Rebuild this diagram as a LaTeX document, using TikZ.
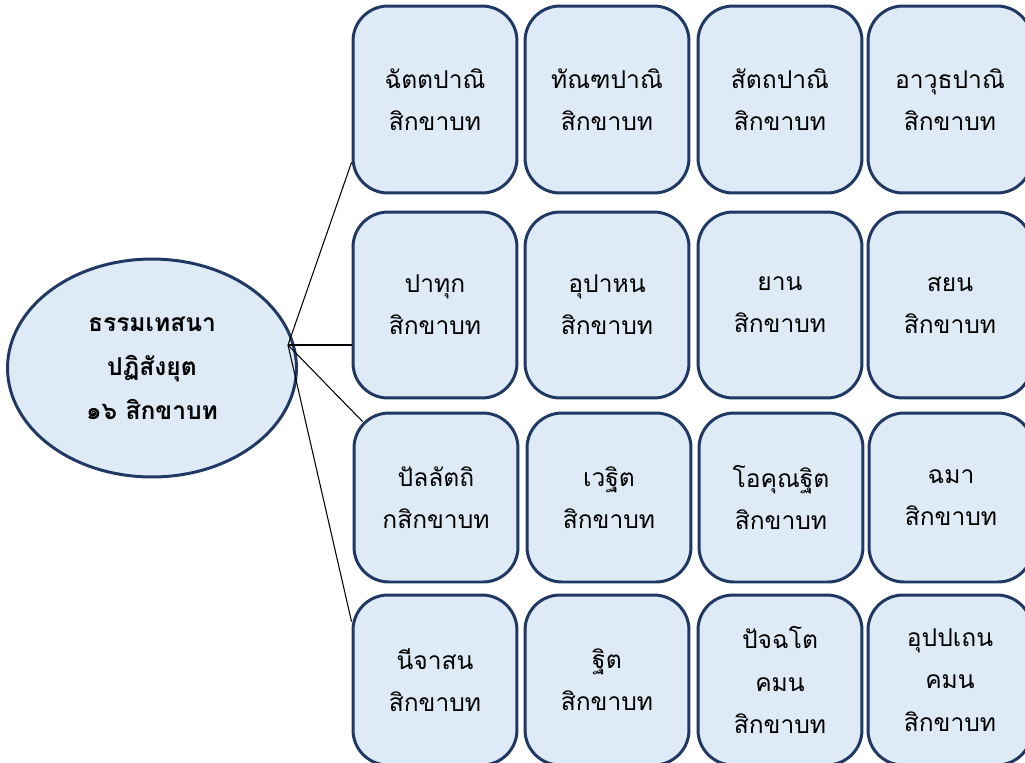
\documentclass[tikz,border=0pt]{standalone}
\usepackage{fontspec}
\newfontfamily\thaifont[Script=Thai]{Loma}
\usetikzlibrary{shapes.geometric}
\definecolor{boxfill}{HTML}{DEEAF6}
\definecolor{boxline}{HTML}{1F3864}
\tikzset{
  sikkha/.style={draw=boxline, fill=boxfill, line width=1.7pt, rounded corners=0.7cm,
    minimum width=3.28cm, inner sep=0pt, align=center,
    font=\thaifont\fontsize{14}{24}\selectfont},
  dhamma/.style={ellipse, draw=boxline, fill=boxfill, line width=1.7pt,
    minimum width=5.78cm, minimum height=4.36cm, inner sep=0pt, align=center,
    font=\thaifont\bfseries\fontsize{14}{25}\selectfont},
  branch/.style={line width=0.6pt}
}
\begin{document}
\begin{tikzpicture}[x=0.02cm,y=-0.02cm]
  \useasboundingbox (0,0) rectangle (1025,762);
  % main topic
  \node[dhamma] (D) at (152,368) {ธรรมเทสนา\\ปฏิสังยุต\\๑๖ สิกขาบท};
  % row 1
  \node[sikkha, minimum height=3.74cm] (c11) at (435,99.5) {ฉัตตปาณิ\\สิกขาบท};
  \node[sikkha, minimum height=3.74cm] (c12) at (607,99.5) {ทัณฑปาณิ\\สิกขาบท};
  \node[sikkha, minimum height=3.74cm] (c13) at (780,99.5) {สัตถปาณิ\\สิกขาบท};
  \node[sikkha, minimum height=3.74cm] (c14) at (950,99.5) {อาวุธปาณิ\\สิกขาบท};
  % row 2
  \node[sikkha, minimum height=3.72cm] (c21) at (435,305) {ปาทุก\\สิกขาบท};
  \node[sikkha, minimum height=3.72cm] (c22) at (607,305) {อุปาหน\\สิกขาบท};
  \node[sikkha, minimum height=3.72cm] (c23) at (780,305) {ยาน\\สิกขาบท};
  \node[sikkha, minimum height=3.72cm] (c24) at (950,305) {สยน\\สิกขาบท};
  % row 3
  \node[sikkha, minimum height=3.38cm] (c31) at (436,497.5) {ปัลลัตถิ\\กสิกขาบท};
  \node[sikkha, minimum height=3.38cm] (c32) at (609,497.5) {เวฐิต\\สิกขาบท};
  \node[sikkha, minimum height=3.38cm] (c33) at (781,497.5) {โอคุณฐิต\\สิกขาบท};
  \node[sikkha, minimum height=3.38cm] (c34) at (951,497.5) {ฉมา\\สิกขาบท};
  % row 4
  \node[sikkha, minimum height=3.4cm] (c41) at (435,680) {นีจาสน\\สิกขาบท};
  \node[sikkha, minimum height=3.4cm] (c42) at (607,680) {ฐิต\\สิกขาบท};
  \node[sikkha, minimum height=3.4cm] (c43) at (780,680) {ปัจฉโต\\คมน\\สิกขาบท};
  \node[sikkha, minimum height=3.4cm] (c44) at (950,680) {อุปปเถน\\คมน\\สิกขาบท};
  % fan of connectors
  \coordinate (F) at (288,345);
  \draw[branch] (F) -- (c11.217.5);
  \draw[branch] (F) -- (F -| c21.west);
  \draw[branch] (F) -- ([shift={(10,10)}]c31.north west);
  \draw[branch] (F) -- (c41.145);
\end{tikzpicture}
\end{document}
